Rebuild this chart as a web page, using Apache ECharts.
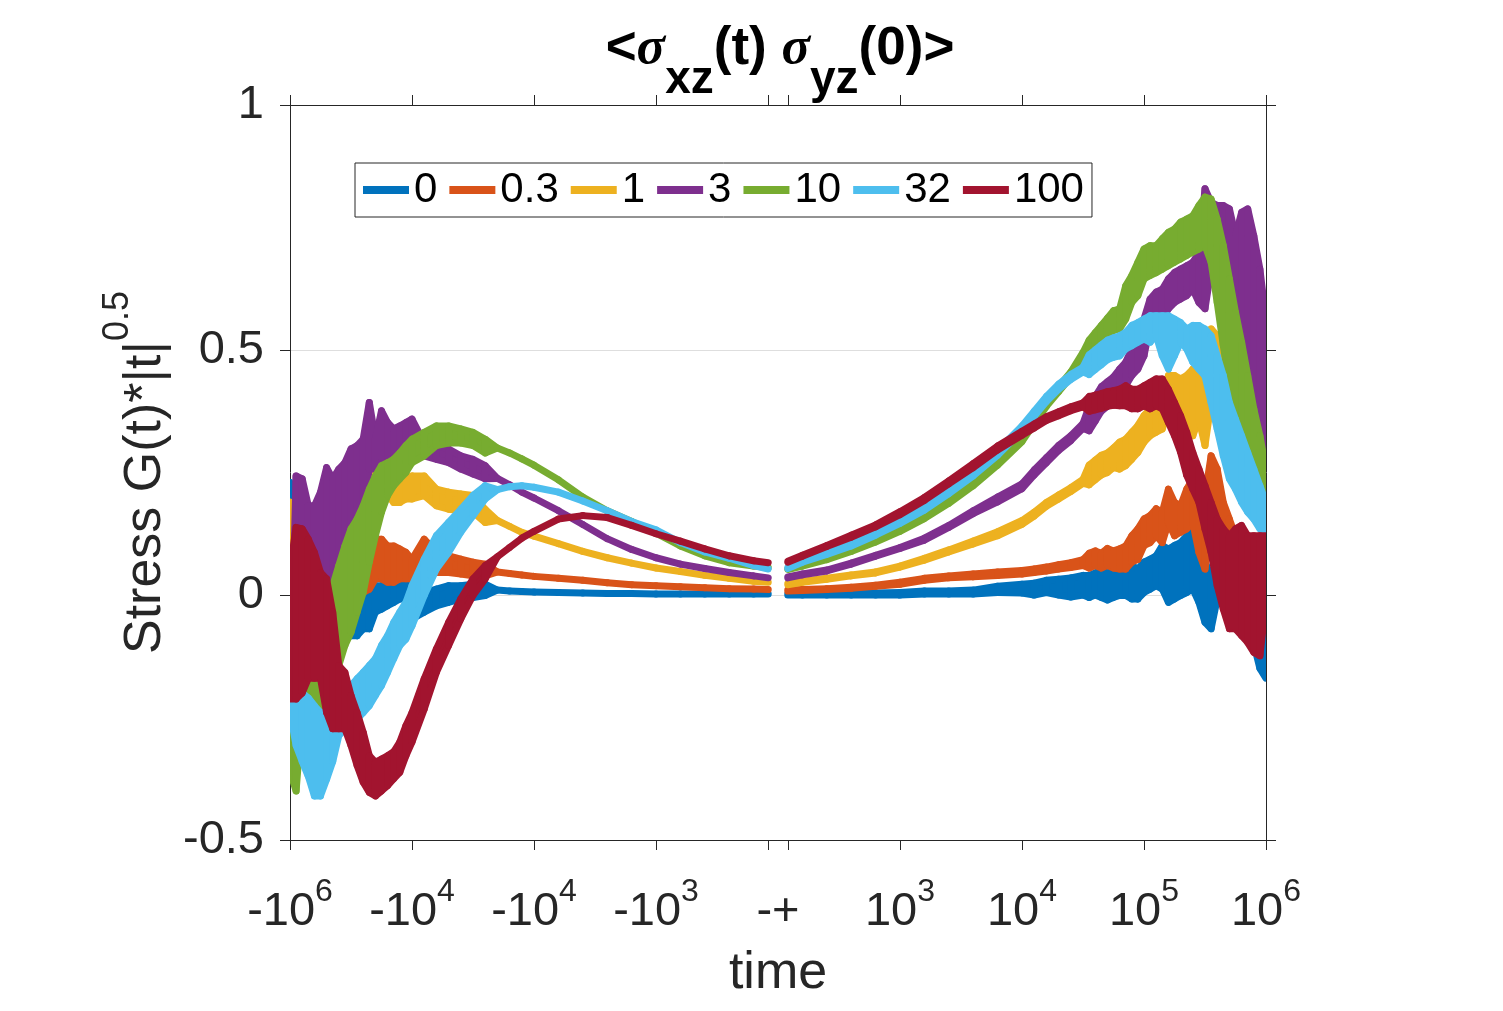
<!DOCTYPE html>
<html>
<head>
<meta charset="utf-8">
<script src="https://cdn.jsdelivr.net/npm/echarts@6/dist/echarts.min.js"></script>
<style>
  html, body { margin: 0; padding: 0; background: #fff; }
  #chart { width: 1503px; height: 1011px; }
</style>
</head>
<body>
<div id="chart"></div>
<script>
// x is a position along the split log axis: 0..~4 = -1e6..-1e2, ~4..8 = 1e2..1e6
const xLeft = [0, 0.05, 0.1, 0.15, 0.2, 0.25, 0.3, 0.35, 0.4, 0.45, 0.5, 0.55, 0.6, 0.65, 0.7, 0.75, 0.8, 0.85, 0.9, 0.95, 1.0,
  1.1, 1.2, 1.3, 1.4, 1.5, 1.6, 1.7, 1.8, 1.9, 2.0,
  2.2, 2.4, 2.6, 2.8, 3.0, 3.2, 3.4, 3.6, 3.8, 3.92];
const xRight = [4.08, 4.2, 4.4, 4.6, 4.8, 5.0, 5.2, 5.4, 5.6, 5.8, 6.0,
  6.1, 6.2, 6.3, 6.4, 6.5,
  6.55, 6.6, 6.65, 6.7, 6.75,
  6.8, 6.85, 6.9, 6.95, 7.0, 7.05, 7.1, 7.15, 7.2, 7.25, 7.3, 7.35, 7.4, 7.45, 7.5, 7.55, 7.6, 7.65, 7.7, 7.75, 7.8, 7.85, 7.9, 7.95, 8.0];

const xTickPos = [0, 1, 2, 3, 4, 5, 6, 7, 8];
const xTickBase = ['-10', '-10', '-10', '-10', '-+', '10', '10', '10', '10'];
const xTickExp = ['6', '4', '4', '3', '', '3', '4', '5', '6'];
const xTickMarks = [0, 1, 2, 3, 3.92, 4.08, 5, 6, 7, 8];

const names = ['0', '0.3', '1', '3', '10', '32', '100'];
const colors = ['#0072BD', '#D95319', '#EDB120', '#7E2F8E', '#77AC30', '#4DBEEE', '#A2142F'];

// each curve is noisy: for every x the low and high edge of the trace
const left0Hi = [0.23, 0.19, 0.05, 0.03, 0.02, 0.02, 0.01, 0.005, 0.005, 0.0, 0.012, 0.012, 0.012, 0.012, 0.019, 0.019, 0.026, 0.033, 0.033, 0.026, -0.001,
  0.005, 0.012, 0.019, 0.019, 0.022, 0.022, 0.01, 0.008, 0.007, 0.006,
  0.005, 0.004, 0.003, 0.003, 0.002, 0.002, 0.002, 0.002, 0.002, 0.002];
const left0Lo = [0.1, 0.0, -0.03, -0.03, -0.04, -0.04, -0.04, -0.05, -0.049, -0.06, -0.083, -0.083, -0.069, -0.069, -0.035, -0.029, -0.022, -0.015, -0.008, -0.008, -0.049,
  -0.035, -0.022, -0.015, -0.008, -0.005, -0.001, 0.01, 0.008, 0.007, 0.006,
  0.005, 0.004, 0.003, 0.003, 0.002, 0.002, 0.002, 0.002, 0.002, 0.002];
const left03Hi = [0.19, 0.169, 0.1, 0.07, 0.05, 0.03, 0.019, 0.005, 0.073, 0.087, 0.1, 0.121, 0.046, 0.06, 0.114, 0.114, 0.1, 0.1, 0.094, 0.087, 0.073,
  0.114, 0.087, 0.08, 0.073, 0.067, 0.063, 0.047, 0.044, 0.041, 0.038,
  0.034, 0.03, 0.025, 0.021, 0.019, 0.017, 0.015, 0.013, 0.012, 0.011];
const left03Lo = [0.06, 0.087, 0.04, 0.02, 0.0, -0.02, -0.063, -0.063, -0.001, 0.005, 0.012, 0.019, 0.005, 0.012, 0.033, 0.033, 0.026, 0.026, 0.033, 0.033, 0.033,
  0.06, 0.046, 0.046, 0.043, 0.039, 0.039, 0.047, 0.044, 0.041, 0.038,
  0.034, 0.03, 0.025, 0.021, 0.019, 0.017, 0.015, 0.013, 0.012, 0.011];
const left1Hi = [0.19, 0.182, 0.14, 0.1, 0.08, 0.05, 0.033, 0.08, 0.12, 0.155, 0.162, 0.182, 0.21, 0.257, 0.277, 0.284, 0.264, 0.223, 0.223, 0.237, 0.243,
  0.243, 0.216, 0.21, 0.206, 0.203, 0.175, 0.152, 0.14, 0.128, 0.12,
  0.105, 0.089, 0.076, 0.065, 0.055, 0.048, 0.04, 0.034, 0.028, 0.026];
const left1Lo = [0.053, 0.135, 0.08, 0.06, 0.03, 0.0, -0.008, 0.02, 0.06, 0.073, 0.087, 0.1, 0.128, 0.148, 0.203, 0.21, 0.203, 0.189, 0.189, 0.196, 0.196,
  0.203, 0.182, 0.175, 0.172, 0.169, 0.148, 0.152, 0.14, 0.128, 0.12,
  0.105, 0.089, 0.076, 0.065, 0.055, 0.048, 0.04, 0.034, 0.028, 0.026];
const left3Hi = [-0.23, 0.243, 0.237, 0.182, 0.182, 0.21, 0.26, 0.237, 0.257, 0.27, 0.298, 0.305, 0.318, 0.393, 0.318, 0.376, 0.352, 0.339, 0.345, 0.352, 0.359,
  0.311, 0.305, 0.298, 0.284, 0.277, 0.264, 0.238, 0.225, 0.21, 0.198,
  0.172, 0.144, 0.115, 0.093, 0.076, 0.063, 0.054, 0.046, 0.039, 0.035];
const left3Lo = [-0.362, 0.06, 0.073, 0.06, 0.06, 0.019, 0.033, 0.019, 0.06, 0.087, 0.135, 0.155, 0.182, 0.257, 0.257, 0.277, 0.277, 0.27, 0.284, 0.29, 0.305,
  0.284, 0.277, 0.27, 0.257, 0.247, 0.237, 0.238, 0.225, 0.21, 0.198,
  0.172, 0.144, 0.115, 0.093, 0.076, 0.063, 0.054, 0.046, 0.039, 0.035];
const left10Hi = [-0.24, -0.24, -0.063, -0.076, -0.103, -0.171, -0.09, 0.019, 0.06, 0.1, 0.135, 0.155, 0.182, 0.216, 0.243, 0.264, 0.27, 0.277, 0.29, 0.305, 0.318,
  0.332, 0.345, 0.345, 0.339, 0.332, 0.318, 0.3, 0.29, 0.278, 0.265,
  0.235, 0.2, 0.172, 0.15, 0.126, 0.1, 0.08, 0.066, 0.059, 0.056];
const left10Lo = [-0.36, -0.4, -0.24, -0.233, -0.233, -0.233, -0.17, -0.144, -0.144, -0.103, -0.076, -0.035, 0.005, 0.067, 0.121, 0.169, 0.203, 0.223, 0.237, 0.25, 0.27,
  0.284, 0.305, 0.31, 0.31, 0.305, 0.29, 0.3, 0.29, 0.278, 0.265,
  0.235, 0.2, 0.172, 0.15, 0.126, 0.1, 0.08, 0.066, 0.059, 0.056];
const left32Hi = [-0.13, -0.076, -0.2, -0.21, -0.226, -0.24, -0.24, -0.205, -0.205, -0.2, -0.185, -0.171, -0.158, -0.144, -0.13, -0.103, -0.083, -0.056, -0.035, -0.015, 0.019,
  0.073, 0.121, 0.148, 0.175, 0.203, 0.223, 0.215, 0.221, 0.223, 0.22,
  0.21, 0.192, 0.172, 0.15, 0.133, 0.107, 0.088, 0.075, 0.06, 0.053];
const left32Lo = [-0.24, -0.307, -0.34, -0.37, -0.41, -0.41, -0.376, -0.34, -0.287, -0.273, -0.26, -0.253, -0.24, -0.226, -0.205, -0.185, -0.158, -0.13, -0.103, -0.09, -0.063,
  -0.001, 0.053, 0.087, 0.128, 0.162, 0.196, 0.215, 0.221, 0.223, 0.22,
  0.21, 0.192, 0.172, 0.15, 0.133, 0.107, 0.088, 0.075, 0.06, 0.053];
const left100Hi = [0.053, 0.138, 0.135, 0.114, 0.087, 0.046, 0.033, -0.035, -0.144, -0.158, -0.205, -0.24, -0.28, -0.328, -0.341, -0.335, -0.328, -0.32, -0.3, -0.267, -0.24,
  -0.171, -0.11, -0.056, -0.008, 0.033, 0.06, 0.078, 0.097, 0.116, 0.13,
  0.155, 0.162, 0.158, 0.142, 0.125, 0.11, 0.094, 0.08, 0.07, 0.066];
const left100Lo = [-0.212, -0.212, -0.2, -0.17, -0.17, -0.17, -0.24, -0.273, -0.273, -0.273, -0.307, -0.348, -0.382, -0.403, -0.41, -0.4, -0.389, -0.375, -0.362, -0.328, -0.3,
  -0.233, -0.158, -0.103, -0.049, -0.001, 0.033, 0.078, 0.097, 0.116, 0.13,
  0.155, 0.162, 0.158, 0.142, 0.125, 0.11, 0.094, 0.08, 0.07, 0.066];

const right0Hi = [0.002, 0.002, 0.002, 0.003, 0.004, 0.005, 0.008, 0.008, 0.01, 0.018, 0.022,
  0.024, 0.03, 0.032, 0.035, 0.04,
  0.04, 0.045, 0.05, 0.045, 0.05,
  0.053, 0.046, 0.06, 0.053, 0.067, 0.073, 0.08, 0.101, 0.094, 0.101, 0.107, 0.121, 0.135, 0.107, 0.067, 0.039, 0.067, 0.121, 0.148, 0.1, 0.05, 0.02, 0.0, -0.05, -0.1];
const right0Lo = [0.0, 0.0, 0.0, 0.0, 0.0, 0.0, 0.002, 0.002, 0.002, 0.005, 0.004,
  0.0, 0.005, 0.0, -0.004, 0.0,
  -0.005, 0.0, -0.005, -0.01, -0.005,
  -0.001, -0.001, -0.008, -0.008, 0.005, 0.012, 0.019, 0.012, -0.015, -0.008, -0.001, 0.005, 0.012, -0.015, -0.056, -0.069, -0.008, 0.019, 0.08, 0.0, -0.05, -0.08, -0.1, -0.15, -0.17];
const right03Hi = [0.01, 0.011, 0.013, 0.016, 0.02, 0.026, 0.034, 0.039, 0.043, 0.047, 0.05,
  0.053, 0.057, 0.062, 0.066, 0.072,
  0.085, 0.09, 0.085, 0.095, 0.09,
  0.094, 0.1, 0.121, 0.135, 0.155, 0.162, 0.176, 0.169, 0.216, 0.189, 0.182, 0.216, 0.237, 0.189, 0.203, 0.284, 0.257, 0.189, 0.155, 0.12, 0.1, 0.08, 0.06, 0.04, 0.04];
const right03Lo = [0.008, 0.009, 0.011, 0.014, 0.018, 0.022, 0.03, 0.035, 0.037, 0.04, 0.043,
  0.046, 0.049, 0.053, 0.056, 0.06,
  0.055, 0.06, 0.055, 0.06, 0.055,
  0.053, 0.053, 0.067, 0.073, 0.101, 0.107, 0.121, 0.107, 0.148, 0.121, 0.128, 0.135, 0.148, 0.087, 0.053, 0.155, 0.121, 0.087, 0.087, 0.05, 0.02, 0.0, -0.02, -0.02, 0.0];
const right1Hi = [0.023, 0.028, 0.034, 0.041, 0.047, 0.059, 0.075, 0.092, 0.11, 0.129, 0.152,
  0.169, 0.189, 0.204, 0.219, 0.236,
  0.265, 0.275, 0.285, 0.29, 0.3,
  0.312, 0.318, 0.332, 0.346, 0.366, 0.38, 0.393, 0.393, 0.448, 0.448, 0.441, 0.448, 0.461, 0.448, 0.427, 0.543, 0.529, 0.461, 0.427, 0.393, 0.4, 0.45, 0.5, 0.55, 0.55];
const right1Lo = [0.021, 0.026, 0.032, 0.039, 0.045, 0.057, 0.071, 0.088, 0.104, 0.121, 0.144,
  0.161, 0.181, 0.196, 0.211, 0.228,
  0.225, 0.235, 0.245, 0.25, 0.26,
  0.257, 0.264, 0.277, 0.291, 0.312, 0.325, 0.332, 0.339, 0.38, 0.393, 0.38, 0.339, 0.325, 0.359, 0.305, 0.393, 0.407, 0.38, 0.339, 0.325, 0.3, 0.3, 0.35, 0.4, 0.393];
const right3Hi = [0.037, 0.043, 0.051, 0.065, 0.081, 0.097, 0.116, 0.142, 0.172, 0.2, 0.227,
  0.255, 0.28, 0.305, 0.325, 0.35,
  0.385, 0.405, 0.425, 0.435, 0.445,
  0.461, 0.475, 0.502, 0.522, 0.563, 0.604, 0.618, 0.624, 0.645, 0.658, 0.665, 0.672, 0.679, 0.699, 0.829, 0.801, 0.795, 0.795, 0.788, 0.733, 0.781, 0.788, 0.733, 0.665, 0.56];
const right3Lo = [0.035, 0.041, 0.049, 0.063, 0.079, 0.095, 0.112, 0.138, 0.166, 0.19, 0.217,
  0.245, 0.27, 0.295, 0.315, 0.34,
  0.335, 0.355, 0.375, 0.385, 0.395,
  0.407, 0.427, 0.448, 0.461, 0.488, 0.55, 0.556, 0.563, 0.584, 0.597, 0.604, 0.611, 0.624, 0.597, 0.584, 0.665, 0.611, 0.665, 0.679, 0.631, 0.529, 0.393, 0.325, 0.298, 0.3];
const right10Hi = [0.054, 0.061, 0.074, 0.091, 0.112, 0.134, 0.16, 0.193, 0.231, 0.275, 0.323,
  0.36, 0.395, 0.425, 0.455, 0.495,
  0.52, 0.535, 0.55, 0.565, 0.58,
  0.584, 0.631, 0.652, 0.679, 0.706, 0.713, 0.713, 0.727, 0.74, 0.747, 0.761, 0.767, 0.774, 0.795, 0.812, 0.808, 0.767, 0.713, 0.645, 0.577, 0.516, 0.448, 0.38, 0.325, 0.257];
const right10Lo = [0.052, 0.059, 0.072, 0.089, 0.108, 0.13, 0.156, 0.187, 0.223, 0.265, 0.313,
  0.35, 0.385, 0.415, 0.445, 0.485,
  0.48, 0.495, 0.51, 0.525, 0.54,
  0.543, 0.563, 0.597, 0.611, 0.645, 0.652, 0.658, 0.665, 0.672, 0.679, 0.686, 0.693, 0.7, 0.706, 0.713, 0.679, 0.597, 0.509, 0.427, 0.352, 0.291, 0.244, 0.196, 0.155, 0.141];
const right32Hi = [0.056, 0.069, 0.085, 0.104, 0.126, 0.15, 0.179, 0.213, 0.251, 0.295, 0.345,
  0.375, 0.405, 0.43, 0.45, 0.465,
  0.49, 0.5, 0.51, 0.52, 0.525,
  0.529, 0.536, 0.55, 0.556, 0.563, 0.57, 0.57, 0.57, 0.57, 0.563, 0.556, 0.543, 0.55, 0.55, 0.543, 0.529, 0.488, 0.448, 0.393, 0.359, 0.325, 0.291, 0.257, 0.223, 0.189];
const right32Lo = [0.054, 0.067, 0.083, 0.1, 0.122, 0.146, 0.173, 0.207, 0.243, 0.285, 0.335,
  0.365, 0.395, 0.42, 0.44, 0.455,
  0.45, 0.46, 0.47, 0.48, 0.485,
  0.488, 0.502, 0.509, 0.516, 0.522, 0.516, 0.529, 0.488, 0.461, 0.488, 0.516, 0.502, 0.475, 0.461, 0.447, 0.393, 0.339, 0.284, 0.237, 0.216, 0.189, 0.169, 0.155, 0.135, 0.128];
const right100Hi = [0.069, 0.081, 0.101, 0.122, 0.143, 0.17, 0.199, 0.233, 0.268, 0.304, 0.334,
  0.349, 0.364, 0.374, 0.384, 0.392,
  0.405, 0.408, 0.411, 0.415, 0.417,
  0.42, 0.427, 0.42, 0.42, 0.427, 0.434, 0.441, 0.441, 0.42, 0.393, 0.366, 0.332, 0.291, 0.257, 0.223, 0.189, 0.155, 0.135, 0.121, 0.135, 0.142, 0.121, 0.121, 0.121, 0.121];
const right100Lo = [0.067, 0.079, 0.099, 0.118, 0.139, 0.164, 0.193, 0.227, 0.26, 0.296, 0.326,
  0.341, 0.356, 0.366, 0.376, 0.384,
  0.375, 0.378, 0.381, 0.385, 0.387,
  0.386, 0.386, 0.38, 0.38, 0.386, 0.38, 0.386, 0.38, 0.352, 0.325, 0.291, 0.244, 0.216, 0.189, 0.135, 0.087, 0.019, -0.029, -0.069, -0.069, -0.083, -0.097, -0.117, -0.124, -0.015];

const leftHi = [left0Hi, left03Hi, left1Hi, left3Hi, left10Hi, left32Hi, left100Hi];
const leftLo = [left0Lo, left03Lo, left1Lo, left3Lo, left10Lo, left32Lo, left100Lo];
const rightHi = [right0Hi, right03Hi, right1Hi, right3Hi, right10Hi, right32Hi, right100Hi];
const rightLo = [right0Lo, right03Lo, right1Lo, right3Lo, right10Lo, right32Lo, right100Lo];

const axisColor = '#262626';
const font = '"Liberation Sans", Arial, Helvetica, sans-serif';
const lineW = 7;

// one item per step between neighbouring samples: [x0, lo0, hi0, x1, lo1, hi1]
function segments(xs, lo, hi) {
  const out = [];
  for (let i = 0; i < xs.length - 1; i++) {
    out.push([xs[i], lo[i], hi[i], xs[i + 1], lo[i + 1], hi[i + 1]]);
  }
  return out;
}

// fill the noisy band between the low and high edge, stroked so thin parts still read as a line
function bandItem(color) {
  return function (params, api) {
    const a0 = api.coord([api.value(0), api.value(1)]);
    const a1 = api.coord([api.value(0), api.value(2)]);
    const b1 = api.coord([api.value(3), api.value(5)]);
    const b0 = api.coord([api.value(3), api.value(4)]);
    return {
      type: 'polygon',
      shape: { points: [a0, a1, b1, b0] },
      style: { fill: color, stroke: color, lineWidth: lineW, lineJoin: 'round' }
    };
  };
}

const series = names.map((n, k) => ({
  name: n,
  type: 'custom',
  coordinateSystem: 'cartesian2d',
  xAxisIndex: 0,
  yAxisIndex: 0,
  data: segments(xLeft, leftLo[k], leftHi[k]).concat(segments(xRight, rightLo[k], rightHi[k])),
  encode: { x: [0, 3], y: [1, 2, 4, 5] },
  renderItem: bandItem(colors[k]),
  itemStyle: { color: colors[k] },
  clip: true,
  silent: true
}));

const chart = echarts.init(document.getElementById('chart'), null, { renderer: 'canvas' });

const option = {
  animation: false,
  backgroundColor: '#fff',
  textStyle: { fontFamily: font },
  title: {
    left: 775,
    top: 18,
    textAlign: 'center',
    text: '{m|<}{g|σ}{s|xz}{m|(t) }{g|σ}{s|yz}{m|(0)>}',
    textStyle: {
      rich: {
        m: { fontSize: 53, fontWeight: 'bold', fontFamily: font, color: '#000', lineHeight: 57, verticalAlign: 'top' },
        g: { fontSize: 53, fontStyle: 'italic', fontFamily: '"Liberation Serif", "DejaVu Serif", serif', color: '#000', lineHeight: 57, verticalAlign: 'top' },
        s: { fontSize: 46, fontWeight: 'bold', fontFamily: font, color: '#000', lineHeight: 80, verticalAlign: 'bottom' }
      }
    }
  },
  legend: {
    left: 355,
    top: 163,
    orient: 'horizontal',
    data: names,
    icon: 'rect',
    itemWidth: 46,
    itemHeight: 8,
    itemGap: 12,
    padding: [6, 8, 6, 8],
    borderColor: axisColor,
    borderWidth: 1,
    backgroundColor: '#fff',
    textStyle: { fontSize: 42, color: '#000', fontFamily: font },
    selectedMode: false
  },
  grid: { left: 290, right: 237, top: 105, bottom: 171 },
  xAxis: [
    {
      type: 'value',
      min: 0,
      max: 8,
      interval: 1,
      name: 'time',
      nameLocation: 'middle',
      nameGap: 108,
      nameTextStyle: { fontSize: 52, color: axisColor, fontFamily: font },
      axisLine: { show: true, onZero: false, lineStyle: { color: axisColor, width: 1 } },
      axisTick: { show: true, inside: false, length: 10, customValues: xTickMarks, lineStyle: { color: axisColor } },
      splitLine: { show: false },
      axisLabel: {
        margin: 36,
        customValues: xTickPos,
        formatter: function (v) {
          const i = xTickPos.indexOf(v);
          if (i < 0) return '';
          return '{b|' + xTickBase[i] + '}' + (xTickExp[i] ? '{e|' + xTickExp[i] + '}' : '');
        },
        rich: {
          b: { fontSize: 47, color: axisColor, fontFamily: font, lineHeight: 60, verticalAlign: 'bottom' },
          e: { fontSize: 32, color: axisColor, fontFamily: font, lineHeight: 20, verticalAlign: 'top' }
        }
      }
    },
    {
      type: 'value',
      position: 'top',
      min: 0,
      max: 8,
      interval: 1,
      axisLine: { show: true, onZero: false, lineStyle: { color: axisColor, width: 1 } },
      axisTick: { show: true, inside: false, length: 10, customValues: xTickMarks, lineStyle: { color: axisColor } },
      axisLabel: { show: false },
      splitLine: { show: false }
    }
  ],
  yAxis: [
    {
      type: 'value',
      min: -0.5,
      max: 1,
      interval: 0.5,
      name: '{m|Stress G(t)*|t|}{s|0.5}',
      nameLocation: 'middle',
      nameRotate: 90,
      nameGap: 112,
      nameTextStyle: {
        rich: {
          m: { fontSize: 52, color: axisColor, fontFamily: font, lineHeight: 72, verticalAlign: 'bottom' },
          s: { fontSize: 36, color: axisColor, fontFamily: font, lineHeight: 34, verticalAlign: 'top' }
        }
      },
      axisLine: { show: true, onZero: false, lineStyle: { color: axisColor, width: 1 } },
      axisTick: { show: true, inside: false, length: 10, lineStyle: { color: axisColor } },
      axisLabel: { margin: 26, fontSize: 47, color: axisColor, fontFamily: font },
      splitLine: { show: true, lineStyle: { color: '#dedede', width: 1 } }
    },
    {
      type: 'value',
      position: 'right',
      min: -0.5,
      max: 1,
      interval: 0.5,
      axisLine: { show: true, onZero: false, lineStyle: { color: axisColor, width: 1 } },
      axisTick: { show: true, inside: false, length: 10, lineStyle: { color: axisColor } },
      axisLabel: { show: false },
      splitLine: { show: false }
    }
  ],
  series: series
};

chart.setOption(option);
</script>
</body>
</html>
